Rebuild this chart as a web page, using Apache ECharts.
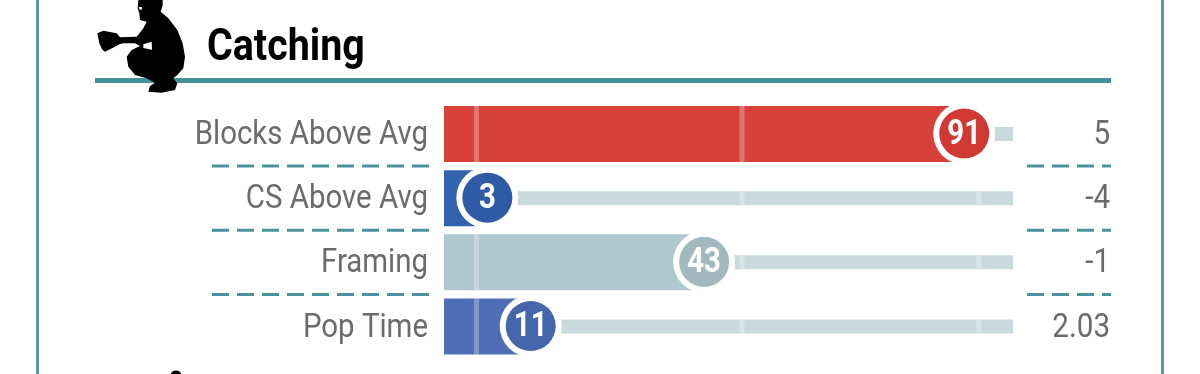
<!DOCTYPE html>
<html><head><meta charset="utf-8">
<script src="https://cdn.jsdelivr.net/npm/echarts@6/dist/echarts.min.js"></script>
<style>html,body{margin:0;padding:0;background:#fff}#c{width:1200px;height:374px}</style>
</head><body><div id="c"></div>
<script>
const categories = ['Blocks Above Avg', 'CS Above Avg', 'Framing', 'Pop Time'];
const percentiles = [91, 3, 43, 11];
const rawValues = ['5', '-4', '-1', '2.03'];
const referenceTicks = [1, 50, 93.7];
const title = 'Catching';

const barColors = ['#d8403a', '#3263af', '#afc8cf', '#4f6eb5'];
const dotColors = ['#cf3833', '#2f5ba6', '#a3b9c0', '#4666ac'];
const TEAL = '#4a939e', FRAME = '#5b9aa9', TRACK = '#c9dadd', GREY = '#6b6b6b';
const AXIS_MIN = -5, AXIS_MAX = 100;
const FONT = 'Roboto';

function renderRow(params, api) {
  const i = params.dataIndex;
  const v = api.value(0), row = api.value(1);
  const [x0, cy] = api.coord([AXIS_MIN, row]);
  const xEnd = api.coord([AXIS_MAX, row])[0];
  const cx = api.coord([v, row])[0];
  const barH = 56, trackH = 14;
  const kids = [];
  kids.push({type:'rect', shape:{x:cx, y:cy-trackH/2, width:xEnd-cx, height:trackH}, style:{fill:TRACK}});
  kids.push({type:'rect', shape:{x:x0, y:cy-barH/2, width:cx-x0, height:barH}, style:{fill:barColors[i]}});
  referenceTicks.forEach(t => {
    const tx = api.coord([t, row])[0];
    const h = t < v ? barH : trackH;
    kids.push({type:'rect', shape:{x:tx-2.5, y:cy-h/2, width:5, height:h}, style:{fill:'rgba(255,255,255,0.28)'}});
  });
  kids.push({type:'circle', shape:{cx, cy:cy-0.5, r:31}, style:{fill:'#fff'}});
  kids.push({type:'circle', shape:{cx, cy:cy-0.5, r:25}, style:{fill:dotColors[i]}});
  kids.push({type:'text', x:cx, y:cy+1, scaleX:0.84, style:{text:String(percentiles[i]), x:0, y:0, fill:'#fff',
    font:'bold 35px '+FONT, textAlign:'center', textVerticalAlign:'middle'}});
  kids.push({type:'text', x:428, y:cy+1.5, scaleX:0.865, style:{text:categories[i], x:0, y:0, fill:GREY,
    font:'400 34px '+FONT, textAlign:'right', textVerticalAlign:'middle'}});
  kids.push({type:'text', x:1110, y:cy+1.5, scaleX:0.87, style:{text:rawValues[i], x:0, y:0, fill:GREY,
    font:'400 34px '+FONT, textAlign:'right', textVerticalAlign:'middle'}});
  if (i < categories.length - 1) {
    const ly = (cy + api.coord([AXIS_MIN, row + 1])[1]) / 2;
    [[212, 430], [1027, 1111]].forEach(([a, b]) => kids.push({type:'line', shape:{x1:a, y1:ly, x2:b, y2:ly},
      style:{stroke:TEAL, lineWidth:3, lineDash:[17, 8], fill:null}}));
  }
  return {type:'group', children:kids};
}

const catcher = [[145,0],[218,0],[218,15],[212,35],[235,55],[262,90],[278,130],[285,170],[280,205],[262,225],[250,235],
 [262,250],[255,270],[215,278],[175,275],[180,258],[195,248],[170,235],[135,225],[115,200],[110,170],[125,150],[150,138],
 [135,130],[100,130],[90,132],[72,142],[45,155],[36,148],[28,130],[22,100],[40,92],[80,100],[90,112],[140,110],[160,85],
 [170,65],[150,60],[148,40],[143,25]];
const notch = [[160,133],[185,125],[186,149],[160,144]];
const mask = [[146,20],[156,22],[156,28],[149,30]];

const chart = echarts.init(document.getElementById('c'), null, {renderer:'canvas'});
chart.setOption({
  animation:false,
  backgroundColor:'#fff',
  grid:{left:444, right:187, top:101.9, height:256.7},
  xAxis:{type:'value', min:AXIS_MIN, max:AXIS_MAX, show:false},
  yAxis:{type:'category', inverse:true, data:categories, show:false},
  graphic:[
    {type:'rect', left:36, top:0, shape:{width:3, height:374}, style:{fill:FRAME}},
    {type:'rect', left:1161, top:0, shape:{width:3, height:374}, style:{fill:FRAME}},
    {type:'rect', left:95, top:78, shape:{width:1016, height:5}, style:{fill:'#43909a'}},
    {type:'group', x:90, y:0, scaleX:1/3, scaleY:1/3, children:[
      {type:'polygon', shape:{points:catcher}, style:{fill:'#000'}},
      {type:'polygon', shape:{points:notch}, style:{fill:'#fff'}},
      {type:'polygon', shape:{points:mask}, style:{fill:'#fff'}}
    ]},
    {type:'ellipse', x:176, y:374, shape:{cx:0, cy:0, rx:5, ry:3.5}, style:{fill:'#000'}},
    {type:'text', x:207, y:48.5, scaleX:0.875, style:{text:title, x:0, y:0, fill:'#000', font:'bold 45px '+FONT,
      textAlign:'left', textVerticalAlign:'middle'}}
  ],
  series:[{type:'custom', clip:false, coordinateSystem:'cartesian2d', renderItem:renderRow,
    encode:{x:0, y:1}, data:percentiles.map((p, i) => [p, i])}]
});
</script></body></html>
